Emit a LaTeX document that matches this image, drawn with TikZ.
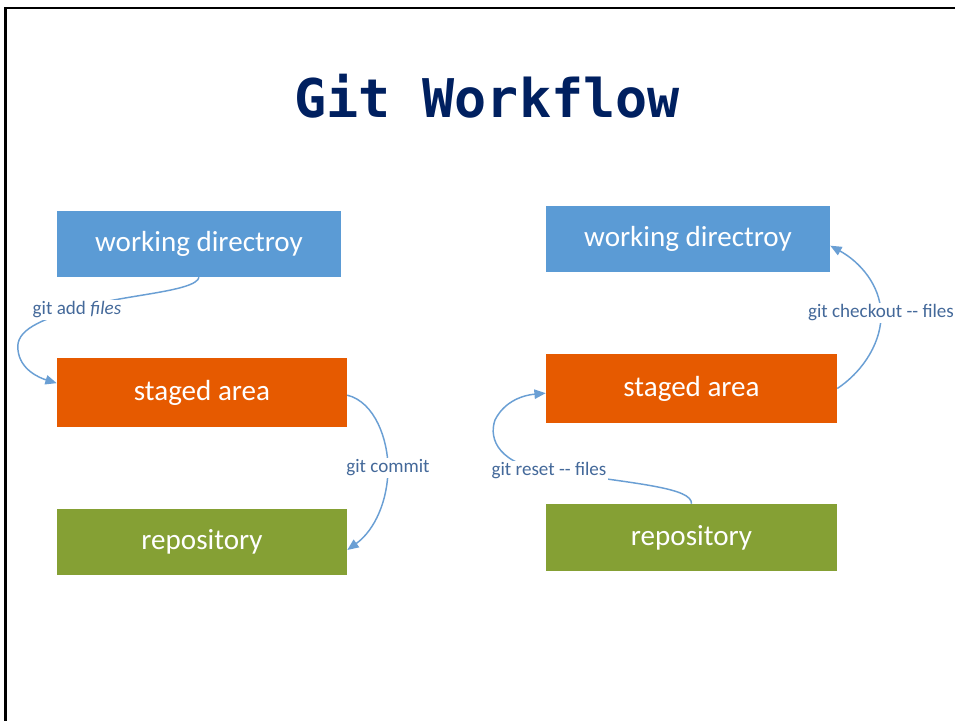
\documentclass[tikz,border=0pt]{standalone}
\usepackage{fontspec}
\setmainfont{Carlito}
\newfontfamily\titlefont{DejaVu Sans Mono}
\usetikzlibrary{arrows.meta}
\definecolor{boxblue}{HTML}{5B9BD5}
\definecolor{boxorange}{HTML}{E65A00}
\definecolor{boxgreen}{HTML}{85A034}
\definecolor{navy}{HTML}{002060}
\definecolor{lbl}{HTML}{44699A}
\definecolor{arr}{HTML}{6A9FD4}
\tikzset{
  box/.style={rectangle, inner sep=0pt, text=white, font=\fontsize{21.8}{25}\selectfont},
  lab/.style={text=lbl, fill=white, inner sep=1pt, font=\fontsize{14.3}{16}\selectfont},
  conn/.style={draw=arr, line width=1.1pt, -{Triangle[length=8.5pt,width=7pt]}},
}
\begin{document}
\begin{tikzpicture}[x=0.75pt,y=-0.75pt]
\useasboundingbox (0,0) rectangle (955,720);
\fill[white] (0,0) rectangle (955,720);
\draw[line width=1.6pt, line cap=rect] (5.5,720) -- (5.5,8) -- (955,8);

\node[text=navy, font=\titlefont\bfseries\fontsize{40}{46}\selectfont, anchor=base] (title) at (487,118) {Git Workflow};

% left column
\node[box, fill=boxblue, minimum width=213pt, minimum height=49.5pt] (wd1) at (199,244) {working directroy};
\node[box, fill=boxorange, minimum width=217.5pt, minimum height=51.75pt] (st1) at (202,392.5) {staged area};
\node[box, fill=boxgreen, minimum width=217.5pt, minimum height=49.5pt] (re1) at (202,542) {repository};

% right column
\node[box, fill=boxblue, minimum width=213pt, minimum height=49.5pt] (wd2) at (688,239) {working directroy};
\node[box, fill=boxorange, minimum width=218.25pt, minimum height=51.75pt] (st2) at (691.5,388.5) {staged area};
\node[box, fill=boxgreen, minimum width=218.25pt, minimum height=50.25pt] (re2) at (691.5,537.5) {repository};

% connectors
\draw[conn] (wd1.south) .. controls (196,292) and (120,295) .. (80,308)
  .. controls (40,320) and (15,330) .. (18,350)
  .. controls (20,370) and (40,378) .. ([yshift=7pt]st1.west);
\draw[conn] ([yshift=-2pt]st1.east) .. controls (375,402) and (388,440) .. (388,468)
  .. controls (388,500) and (375,530) .. ([yshift=-6pt]re1.east);
\draw[conn] (re2.north) .. controls (692,488) and (640,484) .. (549,471)
  .. controls (500,465) and (488,440) .. (495,420)
  .. controls (505,400) and (525,395) .. ([yshift=-3.5pt]st2.west);
\draw[conn] (st2.east) .. controls (865,370) and (882,340) .. (881,313)
  .. controls (880,285) and (860,262) .. ([yshift=-5pt]wd2.east);

% labels
\node[lab] (ladd) at (77,310) {git add \textit{files}};
\node[lab] (lcommit) at (388,468) {git commit};
\node[lab] (lreset) at (549,471) {git reset -{}- files};
\node[lab] (lcheckout) at (881,313) {git checkout -{}- files};
\end{tikzpicture}
\end{document}
